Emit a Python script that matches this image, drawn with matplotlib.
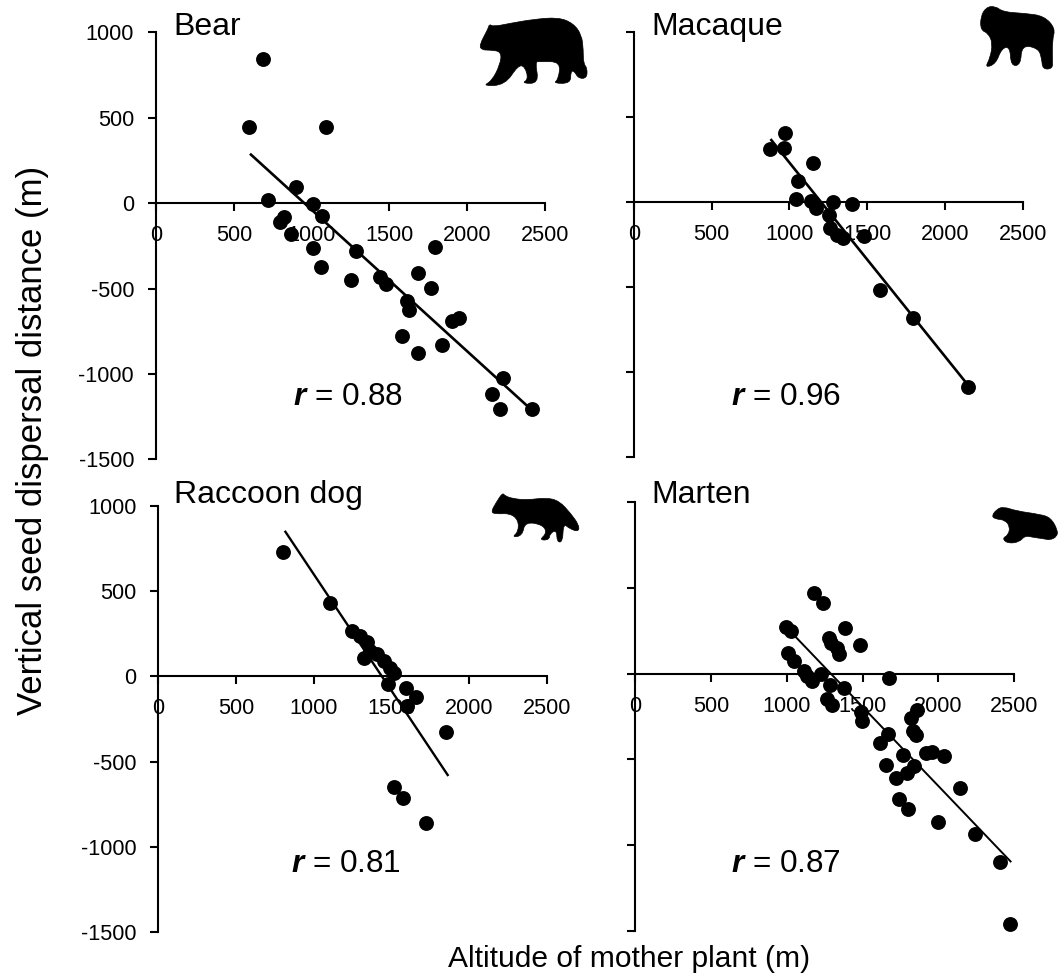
#!/usr/bin/env python
"""Vertical seed dispersal vs altitude of mother plant, one panel per animal."""
import matplotlib
matplotlib.use("Agg")
import matplotlib.pyplot as plt
from matplotlib.patches import PathPatch
from matplotlib.path import Path

W, H = 1064, 976
plt.rcParams["font.family"] = ["Liberation Sans", "DejaVu Sans"]
plt.rcParams["mathtext.fontset"] = "custom"
plt.rcParams["mathtext.bfit"] = "Liberation Sans:italic:bold"
plt.rcParams["axes.unicode_minus"] = False

XTICKS = [0, 500, 1000, 1500, 2000, 2500]
YTICKS = [-1500, -1000, -500, 0, 500, 1000]

bear_x = [690, 600, 1090, 722, 898, 1007, 1069, 823, 797, 868, 1007, 1058, 1285, 1253, 1440,
          1476, 1615, 1628, 1686, 1793, 1767, 1900, 1947, 1583, 1686, 1836, 2230, 2161, 2211, 2415]
bear_y = [846, 447, 447, 19, 94, -8, -74, -82, -111, -182, -264, -373, -280, -449, -430,
          -471, -571, -627, -408, -256, -495, -692, -674, -778, -877, -830, -1026, -1119, -1207, -1207]
bear_fit_x = [604, 2395]
bear_fit_y = [289, -1195]

macaque_x = [969, 876, 963, 1154, 1057, 1040, 1139, 1169, 1278, 1400, 1256, 1258, 1306, 1344,
             1479, 1584, 1794, 2149]
macaque_y = [409, 311, 317, 229, 126, 20, 6, -33, 4, -12, -72, -150, -191, -211,
             -197, -516, -679, -1086]
macaque_fit_x = [878, 2140]
macaque_fit_y = [372, -1066]

raccoon_x = [805, 1103, 1247, 1298, 1345, 1322, 1363, 1410, 1455, 1491, 1519, 1477, 1593, 1657,
             1599, 1852, 1515, 1573, 1725]
raccoon_y = [726, 427, 263, 235, 200, 106, 147, 128, 88, 49, 20, -43, -66, -119,
             -176, -327, -650, -711, -860]
raccoon_fit_x = [814, 1867]
raccoon_fit_y = [853, -584]

marten_x = [1179, 1236, 998, 1026, 1387, 1277, 1293, 1332, 1347, 1483, 1011, 1048, 1113, 1135,
            1168, 1227, 1284, 1380, 1673, 1267, 1301, 1490, 1496, 1667, 1618, 1859, 1818, 1835,
            1853, 1769, 1916, 1955, 2036, 1837, 1796, 1721, 1654, 1743, 1802, 1997, 2139, 2238,
            2403, 2469]
marten_y = [472, 413, 272, 251, 265, 206, 180, 151, 112, 165, 118, 76, 18, -16,
            -45, -4, -65, -84, -28, -149, -184, -225, -278, -355, -406, -213, -260, -335,
            -359, -474, -465, -457, -480, -539, -580, -607, -533, -729, -788, -868, -666, -933,
            -1101, -1462]
marten_fit_x = [1015, 2480]
marten_fit_y = [255, -1100]

# silhouettes, traced in pixels of the 3x crops: (origin x, origin y, outline)
BEAR_SHAPE = (150, 0, [(988, 135), (1015, 85), (1018, 72), (1030, 80), (1080, 70), (1150, 58), (1225, 52),
                       (1270, 70), (1295, 105), (1300, 150), (1300, 190), (1312, 205), (1310, 235), (1285, 235),
                       (1272, 212), (1262, 215), (1262, 250), (1210, 250), (1225, 238), (1232, 185), (1170, 185),
                       (1155, 185), (1167, 250), (1115, 250), (1135, 238), (1125, 200), (1105, 195), (1065, 255),
                       (998, 258), (1025, 243), (1050, 195), (1055, 155), (1020, 150), (995, 150)])
MACAQUE_SHAPE = (620, 0, [(1082, 50), (1098, 22), (1125, 18), (1150, 36), (1215, 40), (1272, 48), (1306, 85),
                          (1297, 120), (1297, 180), (1298, 206), (1268, 208), (1265, 175), (1255, 145), (1205, 135),
                          (1202, 195), (1173, 198), (1170, 140), (1145, 145), (1127, 192), (1095, 203), (1110, 175),
                          (1118, 130), (1105, 100), (1082, 90)])
RACCOON_SHAPE = (150, 480, [(1022, 97), (1040, 65), (1058, 38), (1065, 48), (1090, 56), (1130, 60), (1190, 53),
                            (1228, 63), (1262, 100), (1287, 135), (1286, 155), (1260, 147), (1240, 130), (1238, 186),
                            (1221, 186), (1220, 150), (1200, 160), (1197, 180), (1168, 180), (1190, 160), (1180, 135),
                            (1125, 125), (1117, 167), (1086, 172), (1105, 155), (1105, 120), (1080, 100), (1040, 102)])
MARTEN_SHAPE = (970, 490, [(65, 78), (80, 58), (100, 50), (140, 63), (210, 73), (242, 83), (263, 120), (261, 140),
                           (240, 150), (225, 147), (190, 142), (165, 137), (147, 157), (112, 160), (97, 145),
                           (115, 135), (120, 110), (105, 90), (76, 87)])

PANELS = [
    # name, xs, ys, fit x, fit y, r, axes px (left, right, y1000, y-1500), label px, r px, shape, fit lw
    ("Bear", bear_x, bear_y, bear_fit_x, bear_fit_y, "0.88",
     (156, 545, 32.3, 459.3), (173.5, 35), (293, 405), BEAR_SHAPE, 1.9),
    ("Macaque", macaque_x, macaque_y, macaque_fit_x, macaque_fit_y, "0.96",
     (634, 1022.7, 32.3, 457.3), (651.5, 35), (731, 405), MACAQUE_SHAPE, 1.9),
    ("Raccoon dog", raccoon_x, raccoon_y, raccoon_fit_x, raccoon_fit_y, "0.81",
     (158.3, 546.7, 505.7, 932.3), (173.5, 503), (291, 872), RACCOON_SHAPE, 1.7),
    ("Marten", marten_x, marten_y, marten_fit_x, marten_fit_y, "0.87",
     (635, 1014.3, 502.3, 930.7), (651.5, 503), (731, 872), MARTEN_SHAPE, 1.4),
]


def fx(px):
    return px / W


def fy(py):
    return 1 - py / H


def smooth_path(pts):
    # quadratic curves through edge midpoints, rounds off the traced corners
    n = len(pts)
    mid = [((pts[k][0] + pts[(k + 1) % n][0]) / 2, (pts[k][1] + pts[(k + 1) % n][1]) / 2) for k in range(n)]
    verts, codes = [mid[-1]], [Path.MOVETO]
    for k in range(n):
        verts += [pts[k], mid[k]]
        codes += [Path.CURVE3, Path.CURVE3]
    return Path(verts, codes)


fig = plt.figure(figsize=(W / 100, H / 100), dpi=100, facecolor="white")

for i, (name, xs, ys, fit_x, fit_y, r, box, lab, rpos, shape, fit_lw) in enumerate(PANELS):
    left, right, top, bottom = box
    ax = fig.add_axes([fx(left), fy(bottom), (right - left) / W, (bottom - top) / H])
    ax.patch.set_alpha(0)
    ax.set_xlim(0, 2500)
    ax.set_ylim(-1500, 1000)
    for s in ("top", "right"):
        ax.spines[s].set_visible(False)
    ax.spines["bottom"].set_position(("data", 0))
    for s in ("left", "bottom"):
        ax.spines[s].set_linewidth(1.5)
        ax.spines[s].set_zorder(0.6)
    ax.set_axisbelow(True)
    ax.set_xticks(XTICKS)
    ax.set_yticks(YTICKS)
    ax.tick_params(axis="x", length=5.8, width=1.5, pad=10, labelsize=15.6)
    ax.tick_params(axis="y", length=5.8, width=1.5, pad=10, labelsize=15.6, labelleft=i % 2 == 0)
    ax.plot(fit_x, fit_y, color="black", lw=fit_lw, zorder=1.5, solid_capstyle="butt")
    ax.scatter(xs, ys, s=115, color="black", linewidths=0, zorder=2, clip_on=False)

    fig.text(fx(lab[0]), fy(lab[1]), name, fontsize=23, va="baseline", ha="left")
    fig.text(fx(rpos[0]), fy(rpos[1]), r"$\mathbfit{r}$ = " + r, fontsize=22.7, va="baseline", ha="left")

    ox, oy, outline = shape
    pts = [(fx(ox + zx / 3), fy(oy + zy / 3)) for zx, zy in outline]
    fig.add_artist(PathPatch(smooth_path(pts), transform=fig.transFigure, facecolor="black",
                             edgecolor="black", linewidth=0.5))

fig.text(fx(629), fy(967), "Altitude of mother plant (m)", fontsize=21.6, ha="center", va="baseline")
fig.text(fx(32.5), fy(440), "Vertical seed dispersal distance (m)", fontsize=25, rotation=90,
         ha="center", va="center")

fig.savefig("out.png", dpi=100)
